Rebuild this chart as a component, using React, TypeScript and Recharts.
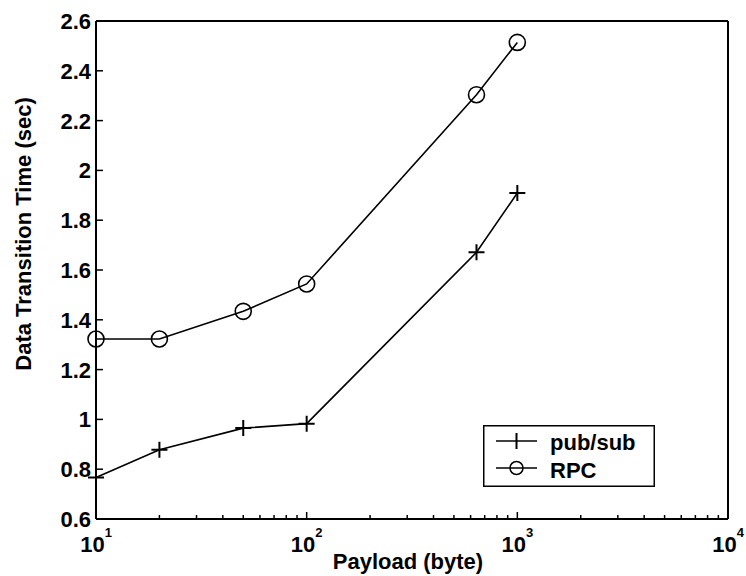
import React from "react";
import {
  LineChart,
  Line,
  XAxis,
  YAxis,
  Legend,
} from "recharts";

// payload sizes (byte) and measured times (sec)
const PAYLOADS = [10, 20, 50, 100, 640, 1000];
const PUBSUB_TIMES = [0.767, 0.878, 0.965, 0.983, 1.671, 1.909];
const RPC_TIMES = [1.323, 1.323, 1.434, 1.544, 2.304, 2.514];

const X_MAJOR_TICKS = [10, 100, 1000, 10000];
const X_MINOR_TICKS = [
  20, 30, 40, 50, 60, 70, 80, 90,
  200, 300, 400, 500, 600, 700, 800, 900,
  2000, 3000, 4000, 5000, 6000, 7000, 8000, 9000,
];
const X_TICKS = [...X_MAJOR_TICKS, ...X_MINOR_TICKS].sort((a, b) => a - b);
const X_EXPONENTS = ["1", "2", "3", "4"];
const Y_TICKS = [0.6, 0.8, 1, 1.2, 1.4, 1.6, 1.8, 2, 2.2, 2.4, 2.6];

const data = PAYLOADS.map((p, i) => ({
  payload: p,
  pubsub: PUBSUB_TIMES[i],
  rpc: RPC_TIMES[i],
}));

const FONT = "'Liberation Sans', Arial, Helvetica, sans-serif";

const PlusDot = (props: any) => {
  const { cx, cy, index } = props;
  if (cx == null || cy == null) return null;
  return (
    <path
      key={`plus-${index}`}
      d={`M${cx - 8},${cy}H${cx + 8}M${cx},${cy - 8}V${cy + 8}`}
      stroke="#000"
      strokeWidth={2}
      fill="none"
    />
  );
};

const CircleDot = (props: any) => {
  const { cx, cy, index } = props;
  if (cx == null || cy == null) return null;
  return (
    <circle
      key={`circ-${index}`}
      cx={cx}
      cy={cy}
      r={8}
      stroke="#000"
      strokeWidth={1.6}
      fill="none"
    />
  );
};

// bottom ticks: inward tick mark + "10^n" label on the decades
const BottomTick = (props: any) => {
  const { x, y, payload } = props;
  const major = X_MAJOR_TICKS.indexOf(payload.value);
  return (
    <g>
      <line x1={x} x2={x} y1={y} y2={y - (major >= 0 ? 7 : 4)} stroke="#000" strokeWidth={1.5} />
      {major >= 0 && (
        <text x={x} y={y + 33} textAnchor="middle" fontSize={22} fontWeight="bold" fill="#000">
          10
          <tspan dy={-15} fontSize={13}>
            {X_EXPONENTS[major]}
          </tspan>
        </text>
      )}
    </g>
  );
};

const TopTick = (props: any) => {
  const { x, y, payload } = props;
  const major = X_MAJOR_TICKS.indexOf(payload.value) >= 0;
  return <line x1={x} x2={x} y1={y} y2={y + (major ? 7 : 4)} stroke="#000" strokeWidth={1.5} />;
};

const LeftTick = (props: any) => {
  const { x, y, payload } = props;
  return (
    <g>
      <line x1={x} x2={x + 7} y1={y} y2={y} stroke="#000" strokeWidth={1.5} />
      <text x={x - 5} y={y + 8} textAnchor="end" fontSize={22} fontWeight="bold" fill="#000">
        {String(Number(payload.value.toFixed(1)))}
      </text>
    </g>
  );
};

const YLabel = (props: any) => {
  const { viewBox } = props;
  const cx = viewBox.x + 31;
  const cy = 234;
  return (
    <text
      x={cx}
      y={cy}
      transform={`rotate(-90, ${cx}, ${cy})`}
      textAnchor="middle"
      fontSize={22}
      fontWeight="bold"
      fill="#000"
    >
      Data Transition Time (sec)
    </text>
  );
};

const XLabel = (props: any) => {
  const { viewBox } = props;
  return (
    <text
      x={viewBox.x + viewBox.width / 2 - 4}
      y={viewBox.y + 50}
      textAnchor="middle"
      fontSize={22}
      fontWeight="bold"
      fill="#000"
    >
      Payload (byte)
    </text>
  );
};

const renderLegend = () => (
  <svg width={172} height={62} style={{ display: "block", fontFamily: FONT }}>
    <rect x={0.75} y={0.75} width={170.5} height={60.5} fill="#fff" stroke="#000" strokeWidth={1.5} />
    <line x1={13} x2={54} y1={16} y2={16} stroke="#000" strokeWidth={1.5} />
    <path d="M33.5,8V24" stroke="#000" strokeWidth={2} />
    <text x={67} y={25} fontSize={22} fontWeight="bold" fill="#000">
      pub/sub
    </text>
    <line x1={13} x2={54} y1={43} y2={43} stroke="#000" strokeWidth={1.5} />
    <circle cx={33.5} cy={43} r={6.5} fill="none" stroke="#000" strokeWidth={1.5} />
    <text x={67} y={53} fontSize={22} fontWeight="bold" fill="#000">
      RPC
    </text>
  </svg>
);

export default function App() {
  return (
    <div style={{ position: "absolute", left: 0, top: 0, width: 746, height: 576, background: "#fff", fontFamily: FONT }}>
      <LineChart width={746} height={576} data={data} margin={{ top: 21, right: 18, left: 0, bottom: 0 }}>
        <XAxis
          xAxisId="bottom"
          dataKey="payload"
          type="number"
          scale="log"
          domain={[10, 10000]}
          ticks={X_TICKS}
          interval={0}
          height={57}
          tickSize={0}
          tickMargin={0}
          tickLine={false}
          tick={BottomTick}
          axisLine={{ stroke: "#000", strokeWidth: 2 }}
          label={XLabel}
        />
        <XAxis
          xAxisId="top"
          orientation="top"
          mirror
          type="number"
          scale="log"
          domain={[10, 10000]}
          allowDataOverflow
          ticks={X_TICKS}
          interval={0}
          tickSize={0}
          tickMargin={0}
          tickLine={false}
          tick={TopTick}
          axisLine={{ stroke: "#000", strokeWidth: 2 }}
        />
        <YAxis
          yAxisId="left"
          type="number"
          domain={[0.6, 2.6]}
          ticks={Y_TICKS}
          interval={0}
          width={96}
          tickSize={0}
          tickMargin={0}
          tickLine={false}
          tick={LeftTick}
          axisLine={{ stroke: "#000", strokeWidth: 2 }}
          label={YLabel}
        />
        <YAxis
          yAxisId="right"
          orientation="right"
          mirror
          type="number"
          domain={[0.6, 2.6]}
          allowDataOverflow
          ticks={Y_TICKS}
          interval={0}
          tickSize={7}
          tick={false}
          stroke="#000"
          tickLine={{ stroke: "#000", strokeWidth: 1.5 }}
          axisLine={{ stroke: "#000", strokeWidth: 2 }}
        />
        <Legend
          layout="vertical"
          align="center"
          verticalAlign="middle"
          wrapperStyle={{ left: 483, top: 425, width: 172, height: 62 }}
          content={renderLegend}
        />
        <Line
          xAxisId="bottom"
          yAxisId="left"
          dataKey="pubsub"
          name="pub/sub"
          stroke="#000"
          strokeWidth={1.6}
          dot={PlusDot}
          activeDot={false}
          isAnimationActive={false}
        />
        <Line
          xAxisId="bottom"
          yAxisId="left"
          dataKey="rpc"
          name="RPC"
          stroke="#000"
          strokeWidth={1.6}
          dot={CircleDot}
          activeDot={false}
          isAnimationActive={false}
        />
      </LineChart>
    </div>
  );
}
